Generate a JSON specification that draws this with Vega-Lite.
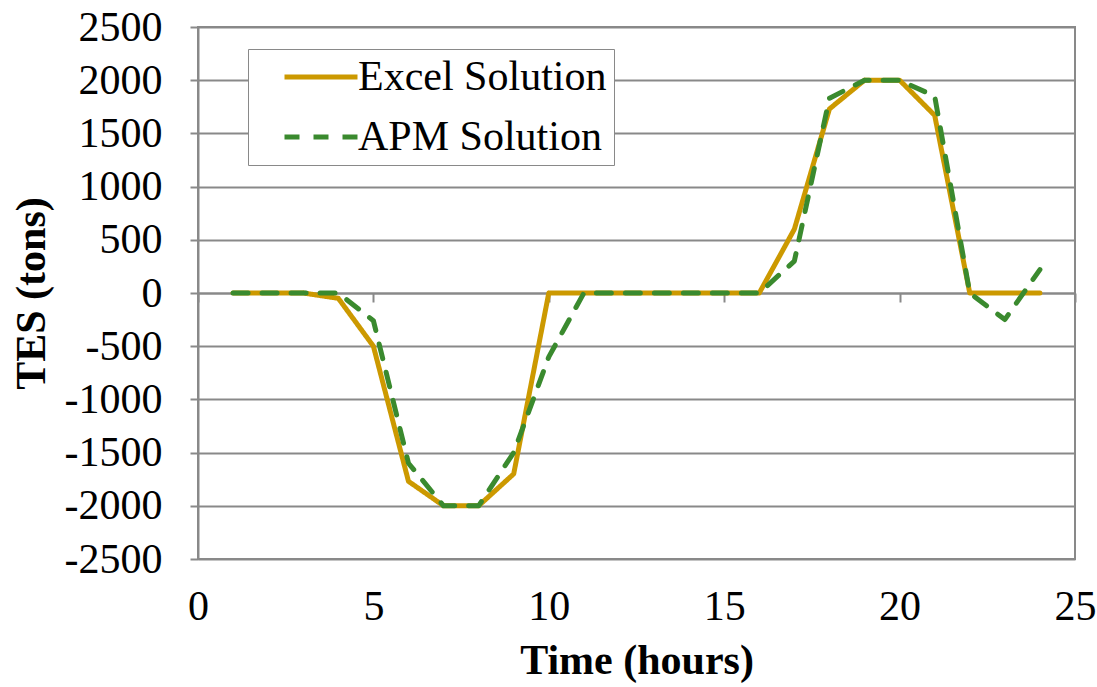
{
  "$schema": "https://vega.github.io/schema/vega-lite/v6.json",
  "width": 877,
  "height": 532,
  "autosize": "none",
  "padding": {"left": 198, "top": 27, "right": 22, "bottom": 128},
  "background": "white",
  "config": {
    "font": "Liberation Serif",
    "view": {"stroke": "#898989", "strokeWidth": 2}
  },
  "data": {
    "values": [
      {"hour": 1, "value": 0, "series": "Excel Solution"},
      {"hour": 2, "value": 0, "series": "Excel Solution"},
      {"hour": 3, "value": 0, "series": "Excel Solution"},
      {"hour": 4, "value": -50, "series": "Excel Solution"},
      {"hour": 5, "value": -500, "series": "Excel Solution"},
      {"hour": 6, "value": -1770, "series": "Excel Solution"},
      {"hour": 7, "value": -2000, "series": "Excel Solution"},
      {"hour": 8, "value": -2000, "series": "Excel Solution"},
      {"hour": 9, "value": -1700, "series": "Excel Solution"},
      {"hour": 10, "value": 0, "series": "Excel Solution"},
      {"hour": 11, "value": 0, "series": "Excel Solution"},
      {"hour": 12, "value": 0, "series": "Excel Solution"},
      {"hour": 13, "value": 0, "series": "Excel Solution"},
      {"hour": 14, "value": 0, "series": "Excel Solution"},
      {"hour": 15, "value": 0, "series": "Excel Solution"},
      {"hour": 16, "value": 0, "series": "Excel Solution"},
      {"hour": 17, "value": 600, "series": "Excel Solution"},
      {"hour": 18, "value": 1730, "series": "Excel Solution"},
      {"hour": 19, "value": 2000, "series": "Excel Solution"},
      {"hour": 20, "value": 2000, "series": "Excel Solution"},
      {"hour": 21, "value": 1670, "series": "Excel Solution"},
      {"hour": 22, "value": 0, "series": "Excel Solution"},
      {"hour": 23, "value": 0, "series": "Excel Solution"},
      {"hour": 24, "value": 0, "series": "Excel Solution"},
      {"hour": 1, "value": 0, "series": "APM Solution"},
      {"hour": 2, "value": 0, "series": "APM Solution"},
      {"hour": 3, "value": 0, "series": "APM Solution"},
      {"hour": 4, "value": 0, "series": "APM Solution"},
      {"hour": 5, "value": -260, "series": "APM Solution"},
      {"hour": 6, "value": -1600, "series": "APM Solution"},
      {"hour": 7, "value": -2000, "series": "APM Solution"},
      {"hour": 8, "value": -2000, "series": "APM Solution"},
      {"hour": 9, "value": -1500, "series": "APM Solution"},
      {"hour": 10, "value": -600, "series": "APM Solution"},
      {"hour": 11, "value": 0, "series": "APM Solution"},
      {"hour": 12, "value": 0, "series": "APM Solution"},
      {"hour": 13, "value": 0, "series": "APM Solution"},
      {"hour": 14, "value": 0, "series": "APM Solution"},
      {"hour": 15, "value": 0, "series": "APM Solution"},
      {"hour": 16, "value": 0, "series": "APM Solution"},
      {"hour": 17, "value": 300, "series": "APM Solution"},
      {"hour": 18, "value": 1830, "series": "APM Solution"},
      {"hour": 19, "value": 2000, "series": "APM Solution"},
      {"hour": 20, "value": 2000, "series": "APM Solution"},
      {"hour": 21, "value": 1850, "series": "APM Solution"},
      {"hour": 22, "value": 0, "series": "APM Solution"},
      {"hour": 23, "value": -250, "series": "APM Solution"},
      {"hour": 24, "value": 220, "series": "APM Solution"}
    ]
  },
  "layer": [
    {
      "transform": [{"filter": "datum.series === 'Excel Solution'"}],
      "mark": {"type": "line", "strokeWidth": 5, "strokeCap": "round", "strokeJoin": "round"},
      "encoding": {
        "x": {
          "field": "hour", "type": "quantitative",
          "scale": {"domain": [0, 25], "nice": false},
          "axis": {
            "orient": "bottom",
            "values": [0, 5, 10, 15, 20, 25],
            "grid": false, "domain": false, "ticks": false,
            "labelFont": "Liberation Serif", "labelFontSize": 42, "labelColor": "black",
            "labelPadding": 27, "labelFlush": false, "labelOverlap": false,
            "title": "Time (hours)", "titleFont": "Liberation Serif", "titleFontSize": 42,
            "titleFontWeight": "bold", "titleColor": "black", "titlePadding": 13
          }
        },
        "y": {
          "field": "value", "type": "quantitative",
          "scale": {"domain": [-2500, 2500], "nice": false},
          "axis": {
            "values": [-2500, -2000, -1500, -1000, -500, 0, 500, 1000, 1500, 2000, 2500],
            "labelExpr": "datum.value < 0 ? '-' + format(-datum.value, 'd') : format(datum.value, 'd')",
            "grid": true, "gridColor": "#898989", "gridWidth": 2,
            "domain": true, "domainColor": "#898989", "domainWidth": 2,
            "ticks": true, "tickColor": "#898989", "tickWidth": 2, "tickSize": 8,
            "labelFont": "Liberation Serif", "labelFontSize": 42, "labelColor": "black",
            "labelPadding": 28, "labelFlush": false, "labelOverlap": false,
            "title": "TES (tons)", "titleFont": "Liberation Serif", "titleFontSize": 42,
            "titleFontWeight": "bold", "titleColor": "black", "titlePadding": 11
          }
        },
        "color": {
          "field": "series", "type": "nominal",
          "scale": {"domain": ["Excel Solution", "APM Solution"], "range": ["#CC9900", "#3A8A2E"]},
          "legend": {
            "title": null, "orient": "none", "legendX": 50, "legendY": 22,
            "fillColor": "white", "strokeColor": "#898989",
            "padding": 7,
            "symbolType": "M-2,0H2", "symbolSize": 1332, "symbolStrokeWidth": 5,
            "symbolOffset": 45, "labelOffset": 16, "rowPadding": 18,
            "labelFont": "Liberation Serif", "labelFontSize": 42, "labelColor": "black",
            "labelLimit": 0, "labelExpr": "datum.label + '  '"
          }
        },
        "strokeDash": {
          "field": "series", "type": "nominal",
          "scale": {"domain": ["Excel Solution", "APM Solution"], "range": [[1, 0], [15, 14]]},
          "legend": {
            "title": null, "orient": "none", "legendX": 50, "legendY": 22,
            "fillColor": "white", "strokeColor": "#898989",
            "padding": 7,
            "symbolType": "M-2,0H2", "symbolSize": 1332, "symbolStrokeWidth": 5,
            "symbolOffset": 45, "labelOffset": 16, "rowPadding": 18,
            "labelFont": "Liberation Serif", "labelFontSize": 42, "labelColor": "black",
            "labelLimit": 0, "labelExpr": "datum.label + '  '"
          }
        }
      }
    },
    {
      "transform": [{"filter": "datum.series === 'APM Solution'"}],
      "mark": {"type": "line", "strokeWidth": 5, "strokeCap": "round", "strokeJoin": "round"},
      "encoding": {
        "x": {
          "field": "hour", "type": "quantitative",
          "scale": {"domain": [0, 25], "nice": false},
          "axis": {
            "orient": "bottom", "offset": -266,
            "values": [0, 5, 10, 15, 20, 25],
            "grid": false, "labels": false, "title": null,
            "domain": true, "domainColor": "#898989", "domainWidth": 2,
            "ticks": true, "tickColor": "#898989", "tickWidth": 2, "tickSize": 9
          }
        },
        "y": {
          "field": "value", "type": "quantitative",
          "scale": {"domain": [-2500, 2500], "nice": false}
        },
        "color": {"field": "series", "type": "nominal"},
        "strokeDash": {"field": "series", "type": "nominal"}
      }
    }
  ],
  "resolve": {"axis": {"x": "independent"}}
}
